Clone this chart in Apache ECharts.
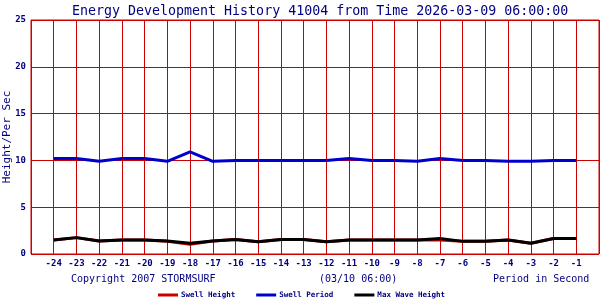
<!DOCTYPE html>
<html>
<head>
<meta charset="utf-8">
<script src="https://cdn.jsdelivr.net/npm/echarts@6/dist/echarts.min.js"></script>
<style>html,body{margin:0;padding:0;background:#fff}#c{width:600px;height:300px}</style>
</head>
<body>
<div id="c"></div>
<script>
const hours = [-24,-23,-22,-21,-20,-19,-18,-17,-16,-15,-14,-13,-12,-11,-10,-9,-8,-7,-6,-5,-4,-3,-2,-1];
const swellHeight = [1.5,1.75,1.4,1.5,1.5,1.35,1.05,1.4,1.55,1.3,1.55,1.55,1.3,1.5,1.5,1.5,1.5,1.5,1.35,1.35,1.5,1.15,1.65,1.65];
const swellPeriod = [10.2,10.2,9.9,10.2,10.2,9.9,10.9,9.9,10.0,10.0,10.0,10.0,10.0,10.2,10.0,10.0,9.9,10.2,10.0,10.0,9.9,9.9,10.0,10.0];
const maxWaveHeight = [1.5,1.75,1.4,1.5,1.5,1.4,1.15,1.4,1.55,1.3,1.55,1.55,1.3,1.5,1.5,1.5,1.5,1.65,1.35,1.35,1.5,1.15,1.65,1.65];
const yTicks = [0,5,10,15,20,25];
const titleText = 'Energy Development History 41004 from Time 2026-03-09 06:00:00';
const yName = 'Height/Per Sec';
const footLeft = 'Copyright 2007 STORMSURF';
const footMid = '(03/10 06:00)';
const footRight = 'Period in Second';

const NAVY = '#000080';
const GRID = '#cc0000';
const FONT = 'DejaVu Sans Mono';
const pair = arr => hours.map((h, i) => [h, arr[i]]);

const chart = echarts.init(document.getElementById('c'), null, {renderer: 'canvas'});
chart.setOption({
  animation: false,
  backgroundColor: '#fff',
  title: [
    {text: titleText, left: 67, top: 0, textStyle: {fontFamily: FONT, fontSize: 13.3, fontWeight: 'normal', color: NAVY}},
    {text: footLeft, left: 66, top: 269, textStyle: {fontFamily: FONT, fontSize: 10, fontWeight: 'normal', color: NAVY}},
    {text: footMid, left: 314, top: 269, textStyle: {fontFamily: FONT, fontSize: 10, fontWeight: 'normal', color: NAVY}},
    {text: footRight, left: 488, top: 269, textStyle: {fontFamily: FONT, fontSize: 10, fontWeight: 'normal', color: NAVY}}
  ],
  graphic: [{
    type: 'text', x: 7, y: 137, rotation: Math.PI / 2,
    style: {text: yName, fontFamily: FONT, fontSize: 11, fill: NAVY, align: 'center', verticalAlign: 'middle'}
  }],
  legend: {
    left: 153, top: 286, itemWidth: 20, itemHeight: 3, itemGap: 21, icon: 'rect',
    textStyle: {fontFamily: FONT, fontSize: 7.5, fontWeight: 'bold', color: NAVY, padding: [0,0,0,-2]},
    data: ['Swell Height', 'Swell Period', 'Max Wave Height']
  },
  grid: {left: 31, right: 1, top: 20, bottom: 46, show: true, borderColor: GRID, borderWidth: 1, containLabel: false, outerBoundsMode: 'none'},
  xAxis: {
    type: 'value', min: -25, max: 0, interval: 1,
    axisLine: {show: false}, axisTick: {show: false},
    splitLine: {show: true, lineStyle: {color: GRID, width: 1}},
    axisLabel: {
      fontFamily: FONT, fontSize: 9, fontWeight: 'bold', color: NAVY, margin: 5,
      formatter: v => (v === -25 || v === 0) ? '' : String(v)
    }
  },
  yAxis: {
    type: 'value', min: yTicks[0], max: yTicks[yTicks.length - 1], interval: 5,
    axisLine: {show: false}, axisTick: {show: false},
    splitLine: {show: true, lineStyle: {color: GRID, width: 1}},
    axisLabel: {fontFamily: FONT, fontSize: 9, fontWeight: 'bold', color: NAVY, margin: 5}
  },
  series: [
    {name: 'Swell Height', type: 'line', data: pair(swellHeight), showSymbol: false, color: '#cc0000', lineStyle: {width: 3, color: '#cc0000'}},
    {name: 'Swell Period', type: 'line', data: pair(swellPeriod), showSymbol: false, color: '#0000cc', lineStyle: {width: 3, color: '#0000cc'}},
    {name: 'Max Wave Height', type: 'line', data: pair(maxWaveHeight), showSymbol: false, color: '#000000', lineStyle: {width: 3, color: '#000000'}}
  ]
});
</script>
</body>
</html>
